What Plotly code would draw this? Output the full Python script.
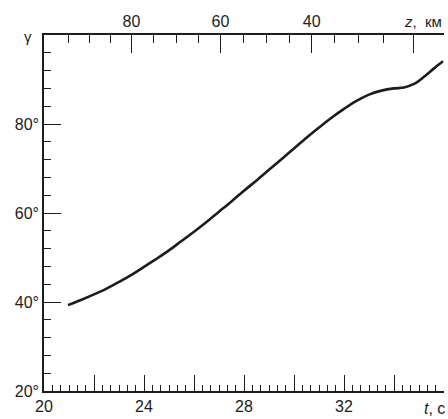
import plotly.graph_objects as go

# Flight-path angle gamma (deg) versus time t (s)
t_s = [20.96, 21.5, 22.0, 22.5, 23.0, 23.5, 24.0, 24.5, 25.0, 25.5, 26.0,
       26.5, 27.0, 27.5, 28.0, 28.5, 29.0, 29.5, 30.0, 30.5, 31.0, 31.5,
       32.0, 32.5, 33.0, 33.5, 34.0, 34.4, 34.8, 35.2, 35.6, 35.96]
gamma_deg = [39.3, 40.5, 41.7, 43.0, 44.5, 46.1, 47.9, 49.7, 51.6, 53.7, 55.8,
             58.0, 60.3, 62.6, 65.0, 67.3, 69.7, 72.1, 74.5, 76.9, 79.2, 81.4,
             83.4, 85.2, 86.6, 87.5, 88.0, 88.2, 89.0, 90.6, 92.5, 94.1]

# Altitude scale z (km) along the top axis, placed at the time it is reached
z_major_km = [80, 60, 40, 20]
z_major_t = [23.50, 27.06, 30.71, 34.76]
z_major_labels = ["80", "60", "40", ""]
z_minor_km = [95, 90, 85, 75, 70, 65, 55, 50, 45, 35, 30, 25]
z_minor_t = [20.96, 21.80, 22.67, 24.39, 25.30, 26.16, 27.99, 28.90, 29.80,
             31.63, 32.59, 33.56]

t_ticks = [20, 22, 24, 26, 28, 30, 32, 34, 36]
t_labels = ["20", "", "24", "", "28", "", "32", "", ""]
gamma_ticks = [20, 40, 60, 80]
gamma_labels = ["20°", "40°", "60°", "80°"]

FONT = "Liberation Sans, Arial, sans-serif"
INK = "#1c1c1c"

fig = go.Figure()
fig.add_trace(go.Scatter(
    x=t_s, y=gamma_deg, mode="lines",
    line=dict(color=INK, width=2.6, shape="spline", smoothing=1.0),
    showlegend=False, hoverinfo="skip",
))
# invisible trace that carries the top axis
fig.add_trace(go.Scatter(x=[20, 36], y=[20, 20], xaxis="x2", mode="lines",
                         line=dict(width=0), showlegend=False, hoverinfo="skip"))

fig.update_layout(
    width=448, height=419,
    margin=dict(l=44, r=4, t=35, b=20),
    paper_bgcolor="white", plot_bgcolor="white",
    font=dict(family=FONT, size=16, color=INK),
    xaxis=dict(
        range=[20, 36], showgrid=False, zeroline=False,
        showline=True, linecolor=INK, linewidth=1.6,
        ticks="inside", tickcolor=INK, tickwidth=1.4, ticklen=16,
        tickmode="array", tickvals=t_ticks, ticktext=t_labels,
        minor=dict(ticks="inside", dtick=2 / 6, tick0=20, ticklen=6,
                   tickcolor=INK, tickwidth=1.2, showgrid=False),
        tickfont=dict(size=16),
    ),
    xaxis2=dict(
        range=[20, 36], overlaying="x", side="top", anchor="y",
        showgrid=False, zeroline=False,
        showline=True, linecolor=INK, linewidth=1.6,
        ticks="inside", tickcolor=INK, tickwidth=1.4, ticklen=18,
        tickmode="array", tickvals=z_major_t, ticktext=z_major_labels,
        minor=dict(ticks="inside", tickmode="array", tickvals=z_minor_t,
                   ticklen=8, tickcolor=INK, tickwidth=1.2, showgrid=False),
        tickfont=dict(size=16),
    ),
    yaxis=dict(
        range=[20, 100], showgrid=False, zeroline=False,
        showline=True, linecolor=INK, linewidth=1.6,
        ticks="inside", tickcolor=INK, tickwidth=1.4, ticklen=17,
        tickmode="array", tickvals=gamma_ticks, ticktext=gamma_labels,
        minor=dict(ticks="inside", dtick=4, tick0=20, ticklen=7,
                   tickcolor=INK, tickwidth=1.2, showgrid=False),
        tickfont=dict(size=16),
    ),
    annotations=[
        dict(text="γ", xref="paper", yref="paper", x=-0.025, y=0.995,
             xanchor="right", yanchor="middle", showarrow=False,
             font=dict(size=15)),
        dict(text="<i>t</i>, с", xref="paper", yref="paper", x=1.008, y=-0.05,
             xanchor="right", yanchor="middle", showarrow=False,
             font=dict(size=16)),
        dict(text="<i>z</i>,  км", xref="paper", yref="paper", x=1.0, y=1.038,
             xanchor="right", yanchor="middle", showarrow=False,
             font=dict(size=15)),
    ],
)

fig.write_html("out.html")
